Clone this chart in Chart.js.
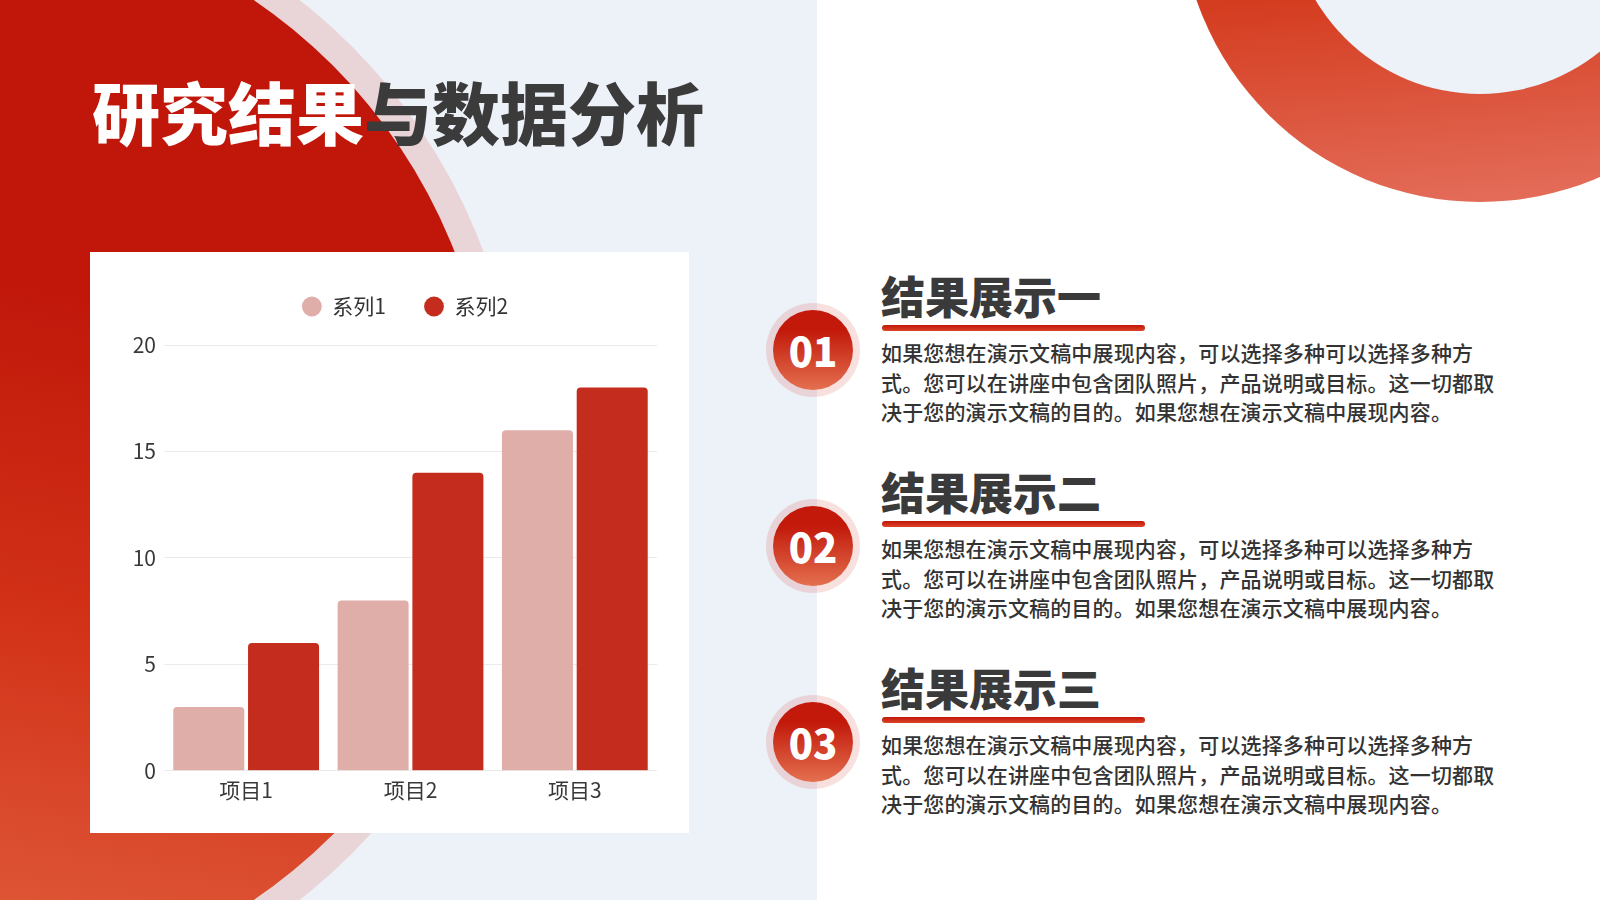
<!DOCTYPE html>
<html lang="zh-CN">
<head>
<meta charset="utf-8">
<title>研究结果与数据分析</title>
<script src="https://cdn.jsdelivr.net/npm/chart.js@4.4.1/dist/chart.umd.min.js"></script>
<style>
html,body{margin:0;padding:0;}
body{width:1600px;height:900px;position:relative;overflow:hidden;background:#ffffff;font-family:"Noto Sans CJK SC","Noto Sans",sans-serif;}
#panel{position:absolute;left:0;top:0;width:817px;height:900px;background:#edf1f8;}
.circ{position:absolute;border-radius:50%;}
#ring{left:-623px;top:-121px;width:1142px;height:1142px;background:#e9d5d8;}
#red{left:-596px;top:-94px;width:1088px;height:1088px;background:linear-gradient(190deg,#c0170a 36%,#d23218 62%,#e1603f 92%);}
#tr{left:1180px;top:-398px;width:600px;height:600px;background:linear-gradient(175deg,#d43c1f 62%,#e57260 100%);}
#trin{left:1289px;top:-288px;width:382px;height:382px;background:#edf1f8;}
#title{position:absolute;left:92px;top:77px;font-size:68px;line-height:68px;font-weight:900;white-space:nowrap;letter-spacing:0px;color:#3b3b3b;}
#title .w{color:#ffffff;}
#card{position:absolute;left:90px;top:252px;width:599px;height:581px;background:#ffffff;}
#chart{position:absolute;left:0;top:0;}
.badge{position:absolute;width:94px;height:94px;border-radius:50%;background:rgba(205,60,50,0.16);}
.badge .in{position:absolute;left:7px;top:7px;width:80px;height:80px;border-radius:50%;background:linear-gradient(180deg,#c2190b 25%,#e4704f 100%);display:flex;align-items:center;justify-content:center;color:#fff;font-size:40px;font-weight:900;line-height:1;}
.head{position:absolute;left:881px;font-size:44px;line-height:44px;font-weight:900;color:#3a3a3a;white-space:nowrap;}
.bar{position:absolute;left:882px;width:263px;height:6px;border-radius:3px;background:linear-gradient(180deg,#c0170a,#dc4527);}
.body{position:absolute;left:881px;font-size:21px;line-height:29.6px;font-weight:500;color:#333333;white-space:nowrap;letter-spacing:0.15px;}
</style>
</head>
<body>
<div id="panel"></div>
<div id="ring" class="circ"></div>
<div id="red" class="circ"></div>
<div id="tr" class="circ"></div>
<div id="trin" class="circ"></div>
<div id="title"><span class="w">研究结果</span>与数据分析</div>
<div id="card"><canvas id="chart" width="599" height="581"></canvas></div>

<div class="badge" style="left:766px;top:303px;"><div class="in">01</div></div>
<div class="head" style="top:273px;">结果展示一</div>
<div class="bar" style="top:325px;"></div>
<div class="body" style="top:338px;">如果您想在演示文稿中展现内容，可以选择多种可以选择多种方<br>式。您可以在讲座中包含团队照片，产品说明或目标。这一切都取<br>决于您的演示文稿的目的。如果您想在演示文稿中展现内容。</div>

<div class="badge" style="left:766px;top:499px;"><div class="in">02</div></div>
<div class="head" style="top:469px;">结果展示二</div>
<div class="bar" style="top:521px;"></div>
<div class="body" style="top:534px;">如果您想在演示文稿中展现内容，可以选择多种可以选择多种方<br>式。您可以在讲座中包含团队照片，产品说明或目标。这一切都取<br>决于您的演示文稿的目的。如果您想在演示文稿中展现内容。</div>

<div class="badge" style="left:766px;top:695px;"><div class="in">03</div></div>
<div class="head" style="top:665px;">结果展示三</div>
<div class="bar" style="top:717px;"></div>
<div class="body" style="top:730px;">如果您想在演示文稿中展现内容，可以选择多种可以选择多种方<br>式。您可以在讲座中包含团队照片，产品说明或目标。这一切都取<br>决于您的演示文稿的目的。如果您想在演示文稿中展现内容。</div>

<script>
const categories = ['项目1', '项目2', '项目3'];
const seriesNames = ['系列1', '系列2'];
const series1 = [3, 8, 16];
const series2 = [6, 14, 18];
const yMin = 0;
const yMax = 20;
const yStep = 5;

Chart.defaults.font.family = '"Noto Sans CJK SC","Noto Sans",sans-serif';

const legendTweak = {
  id: 'legendTweak',
  beforeLayout(chart) {
    const lg = chart.legend;
    if (lg && !lg._spaced) {
      const orig = lg.fit;
      lg.fit = function () { orig.call(this); this.height += 18; };
      lg._spaced = true;
    }
  },
  afterLayout(chart) {
    const lg = chart.legend;
    if (lg) { lg.left += 11.5; lg.right += 11.5; }
  }
};

new Chart(document.getElementById('chart'), {
  type: 'bar',
  data: {
    labels: categories,
    datasets: [
      { label: seriesNames[0], data: series1, backgroundColor: '#dfaea9', borderRadius: 4, borderSkipped: 'bottom', categoryPercentage: 0.91, barPercentage: 0.95 },
      { label: seriesNames[1], data: series2, backgroundColor: '#c42d1e', borderRadius: 4, borderSkipped: 'bottom', categoryPercentage: 0.91, barPercentage: 0.95 }
    ]
  },
  options: {
    responsive: false,
    animation: false,
    layout: { padding: { left: 40, right: 32, top: 6, bottom: 23 } },
    plugins: {
      legend: {
        position: 'top',
        labels: { usePointStyle: true, pointStyle: 'circle', boxWidth: 20, boxHeight: 14, padding: 38, color: '#333333', font: { size: 21 } }
      },
      tooltip: { enabled: false }
    },
    scales: {
      x: {
        grid: { display: false, drawTicks: false },
        border: { display: false },
        ticks: { color: '#383838', font: { size: 21 }, padding: 7 }
      },
      y: {
        min: yMin, max: yMax,
        ticks: { stepSize: yStep, color: '#383838', font: { size: 21 }, padding: 8 },
        grid: { color: '#ebebeb', drawTicks: false },
        border: { display: false },
        afterFit(s) { s.width = 34; }
      }
    }
  },
  plugins: [legendTweak]
});
</script>
</body>
</html>
